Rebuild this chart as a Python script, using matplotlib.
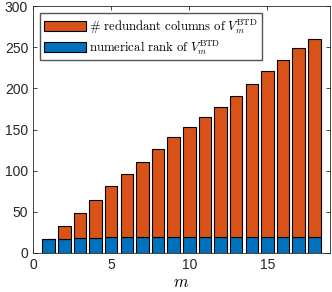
import numpy as np
import matplotlib
matplotlib.use('Agg')
import matplotlib.pyplot as plt

matplotlib.rcParams['mathtext.fontset'] = 'cm'
plt.rc('font', family='Liberation Sans')

m = np.arange(1, 19)
num_rank = [17, 17, 18, 18, 19, 19, 19, 19, 19, 19, 19, 19, 19, 19, 19, 19, 19, 19]
total_cols = [17, 33, 49, 65, 81, 96, 111, 126, 141, 153, 165, 178, 191, 206,
              221, 235, 249, 260]
redundant = [t - r for t, r in zip(total_cols, num_rank)]

c_blue = (0.0, 0.447, 0.741)
c_orange = (0.850, 0.325, 0.098)

fig = plt.figure(figsize=(3.32, 2.92), dpi=100)
ax = fig.add_axes([0.0994, 0.1336, 0.8946, 0.845])

ax.bar(m, num_rank, width=0.8, color=c_blue, edgecolor='black', linewidth=0.8,
       label=r'$\mathrm{numerical\ rank\ of}\ V_m^{\mathrm{BTD}}$', zorder=3)
ax.bar(m, redundant, width=0.8, bottom=num_rank, color=c_orange,
       edgecolor='black', linewidth=0.8,
       label=r'$\#\ \mathrm{redundant\ columns\ of}\ V_m^{\mathrm{BTD}}$', zorder=3)

ax.set_xlim(0, 19)
ax.set_ylim(0, 300)
ax.set_xticks([0, 5, 10, 15])
ax.set_yticks(range(0, 301, 50))
ax.tick_params(direction='in', labelsize=10, top=True, right=True,
               length=3, width=0.6, colors='#262626')
for s in ax.spines.values():
    s.set_linewidth(0.6)
    s.set_color('#262626')
ax.set_xlabel(r'$m$', fontsize=12, labelpad=2)

h, l = ax.get_legend_handles_labels()
ax.legend(h[::-1], l[::-1], loc='upper left', fontsize=9.2, frameon=True,
          fancybox=False, edgecolor='#555555', framealpha=1,
          handlelength=3.3, handleheight=0.9, handletextpad=0.25,
          labelspacing=0.2, borderpad=0.3, borderaxespad=0.55)

plt.savefig('out.png', dpi=100)
